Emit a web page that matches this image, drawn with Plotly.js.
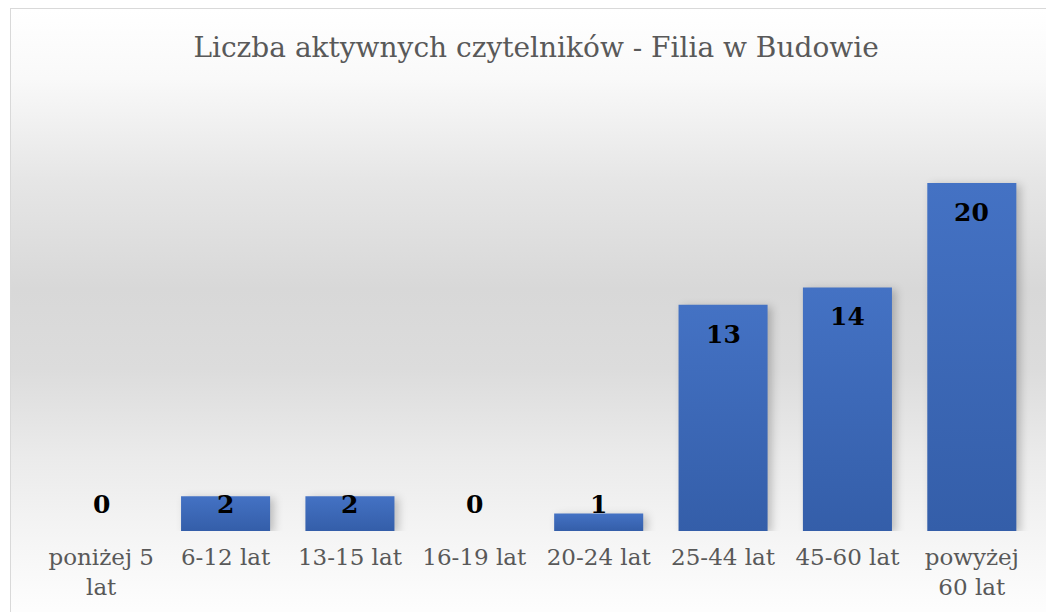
<!DOCTYPE html>
<html>
<head>
<meta charset="utf-8">
<script src="https://cdn.plot.ly/plotly-3.0.1.min.js"></script>
<style>
  html, body { margin: 0; padding: 0; background: #ffffff; }
  #wrap { position: relative; width: 1046px; height: 612px; overflow: hidden; }
  #frame {
    position: absolute; left: 10px; top: 8px; width: 1060px; height: 620px;
    border: 1px solid #d9d9d9; box-sizing: border-box;
    background: linear-gradient(to bottom, #ffffff 0px, #f9f9f9 70px, #e6e6e6 170px, #d8d8d8 280px, #dcdcdc 360px, #ebebeb 450px, #f5f5f5 530px, #fdfdfd 600px);
  }
  #chart { position: absolute; left: 0; top: 0; width: 1046px; height: 612px; }
  #chart .bars .point path { fill: url(#barGrad) !important; filter: drop-shadow(4px 2px 4px rgba(0,0,0,0.22)); }
</style>
</head>
<body>
<svg width="0" height="0" style="position:absolute">
  <defs>
    <linearGradient id="barGrad" x1="0" y1="0" x2="0" y2="1">
      <stop offset="0%" stop-color="#4472c4"/>
      <stop offset="100%" stop-color="#345ea9"/>
    </linearGradient>
  </defs>
</svg>
<div id="wrap">
  <div id="frame"></div>
  <div id="chart"></div>
</div>
<script>
const categories = ["poniżej 5 lat", "6-12 lat", "13-15 lat", "16-19 lat", "20-24 lat", "25-44 lat", "45-60 lat", "powyżej 60 lat"];
const tickLabels = ["poniżej 5<br>lat", "6-12 lat", "13-15 lat", "16-19 lat", "20-24 lat", "25-44 lat", "45-60 lat", "powyżej<br>60 lat"];
const values = [0, 2, 2, 0, 1, 13, 14, 20];
const chartTitle = "Liczba aktywnych czytelników - Filia w Budowie";

const serif = "DejaVu Serif, Liberation Serif, serif";

const annotations = categories.map((c, i) => ({
  x: c,
  y: Math.max(values[i] - 1.25, 1.95),
  xref: 'x', yref: 'y',
  yshift: 9,
  text: '<b>' + values[i] + '</b>',
  showarrow: false,
  yanchor: 'top',
  xanchor: 'center',
  font: { family: serif, size: 25, color: '#000000' }
}));

const trace = {
  type: 'bar',
  x: categories,
  y: values,
  marker: { color: '#3d69b8', line: { width: 0 } },
  hoverinfo: 'none'
};

const layout = {
  width: 1046,
  height: 612,
  margin: { l: 39, r: 12, t: 96, b: 81, pad: 0 },
  paper_bgcolor: 'rgba(0,0,0,0)',
  plot_bgcolor: 'rgba(0,0,0,0)',
  bargap: 0.284,
  showlegend: false,
  title: {
    text: chartTitle,
    x: 0.5125, xanchor: 'center',
    y: 1 - 47 / 612, yanchor: 'middle',
    font: { family: serif, size: 28, color: '#595959' }
  },
  xaxis: {
    type: 'category',
    tickmode: 'array',
    tickvals: categories,
    ticktext: tickLabels,
    showline: false, showgrid: false, zeroline: false, ticks: '',
    ticklabelstandoff: 10,
    tickfont: { family: serif, size: 23, color: '#595959' },
    fixedrange: true
  },
  yaxis: {
    range: [0, 25],
    visible: false,
    showgrid: false, zeroline: false,
    fixedrange: true
  },
  annotations: annotations
};

Plotly.newPlot('chart', [trace], layout, { displayModeBar: false, staticPlot: true });
</script>
</body>
</html>
